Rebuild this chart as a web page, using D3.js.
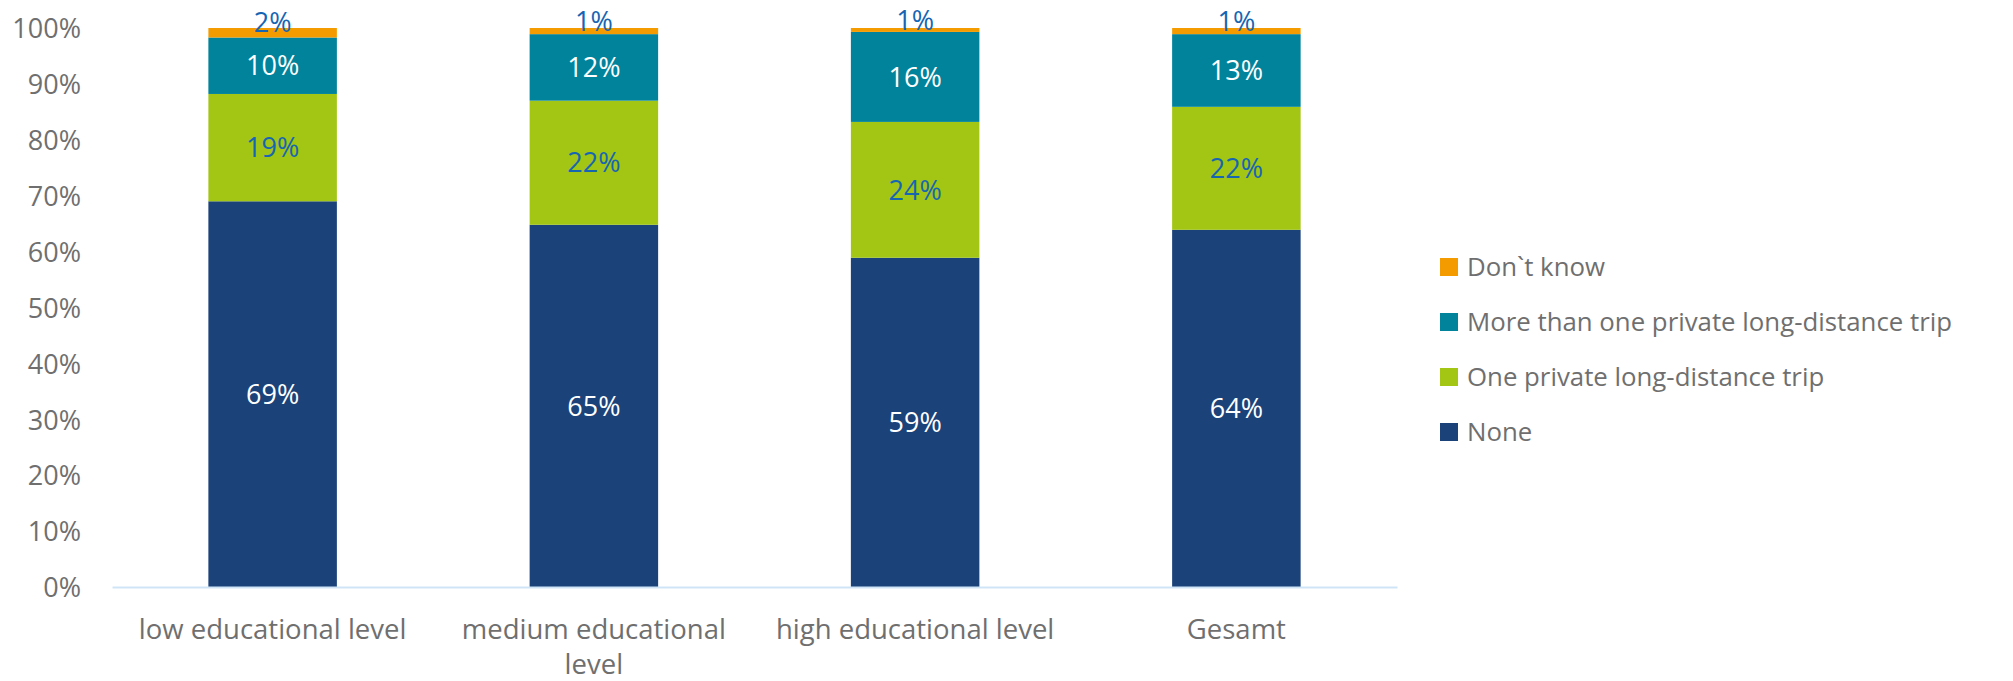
<!DOCTYPE html>
<html>
<head>
<meta charset="utf-8">
<script src="https://cdn.jsdelivr.net/npm/d3@7/dist/d3.min.js"></script>
<style>
  html, body { margin: 0; padding: 0; background: #ffffff; }
  svg { display: block; font-family: "Open Sans", sans-serif; }
</style>
</head>
<body>
<svg id="chart" width="2013" height="681"></svg>
<script>
// ---- data ----
const categories = ["low educational level", "medium educational level", "high educational level", "Gesamt"];
const seriesNames = ["None", "One private long-distance trip", "More than one private long-distance trip", "Don`t know"];
const noneValues = [69.0, 64.8, 58.9, 63.9];
const oneTripValues = [19.2, 22.2, 24.3, 22.0];
const moreTripValues = [10.1, 11.9, 16.1, 13.0];
const dontKnowValues = [1.7, 1.1, 0.7, 1.1];
const yTicks = [0, 10, 20, 30, 40, 50, 60, 70, 80, 90, 100];

// ---- styles ----
const colors = ["#1b4279", "#a3c615", "#00839b", "#f49b00"];
const labelColors = ["#ffffff", "#1665b3", "#ffffff", "#1665b3"];
const seriesValues = [noneValues, oneTripValues, moreTripValues, dontKnowValues];

const svg = d3.select("#chart");
const plot = { left: 112, right: 1397, top: 28, bottom: 587 };

const x = d3.scaleBand().domain(categories).range([plot.left, plot.right]).paddingInner(0.6).paddingOuter(0.3);
const y = d3.scaleLinear().domain([0, 100]).range([plot.bottom, plot.top]);

// stacked data
const table = categories.map((c, i) => {
  const row = { cat: c };
  seriesNames.forEach((s, j) => row[s] = seriesValues[j][i]);
  return row;
});
const stack = d3.stack().keys(seriesNames)(table);

// y axis labels
const yAxis = d3.axisLeft(y).tickValues(yTicks).tickFormat(d => d + "%").tickSize(0).tickPadding(0);
const gy = svg.append("g").attr("transform", `translate(81,0)`).call(yAxis);
gy.select(".domain").remove();
gy.selectAll("text").attr("fill", "#6f6f6f").style("font-size", "27px").style("font-family", "'Open Sans', sans-serif").attr("dy", "0.36em");

// bars
stack.forEach((layer, j) => {
  svg.append("g").selectAll("rect").data(layer).enter().append("rect")
    .attr("x", d => x(d.data.cat))
    .attr("width", x.bandwidth())
    .attr("y", d => y(d[1]))
    .attr("height", d => y(d[0]) - y(d[1]))
    .attr("fill", colors[j]);
});

// x axis line
const xAxis = d3.axisBottom(x).tickSize(0).tickFormat("");
const gx = svg.append("g").attr("transform", `translate(0,${plot.bottom})`).call(xAxis);
gx.select(".domain").attr("stroke", "#cfe5f7").attr("stroke-width", 2);

// data labels
stack.forEach((layer, j) => {
  svg.append("g").selectAll("text").data(layer).enter().append("text")
    .attr("x", d => x(d.data.cat) + x.bandwidth() / 2)
    .attr("y", d => (y(d[0]) + y(d[1])) / 2 + (j === 3 ? -10 : 0))
    .attr("dy", "0.36em")
    .attr("text-anchor", "middle")
    .attr("fill", labelColors[j])
    .style("font-size", "27px")
    .text(d => Math.round(d[1] - d[0]) + "%");
});

// category labels with wrapping
const catFont = "27.5px";
const catG = svg.append("g");
categories.forEach(c => {
  const cx = x(c) + x.bandwidth() / 2;
  const t = catG.append("text").attr("x", cx).attr("y", 629).attr("dy", "0.36em")
    .attr("text-anchor", "middle").attr("fill", "#6f6f6f").style("font-size", catFont).text(c);
  const maxW = x.step() * 0.92;
  if (t.node().getComputedTextLength() > maxW) {
    const words = c.split(" ");
    t.text(null);
    let line = [];
    let lines = [];
    const tmp = catG.append("text").style("font-size", catFont);
    words.forEach(w => {
      const test = line.concat([w]).join(" ");
      tmp.text(test);
      if (tmp.node().getComputedTextLength() > maxW && line.length) {
        lines.push(line.join(" "));
        line = [w];
      } else line.push(w);
    });
    lines.push(line.join(" "));
    tmp.remove();
    lines.forEach((l, k) => {
      t.append("tspan").attr("x", cx).attr("y", 629 + k * 35).attr("dy", "0.36em").text(l);
    });
  }
});

// legend (reverse order, top = Don`t know)
const legendOrder = seriesNames.map((s, j) => j).reverse();
const lg = svg.append("g");
legendOrder.forEach((j, k) => {
  const cy = 267 + k * 55;
  lg.append("rect").attr("x", 1440).attr("y", cy - 9).attr("width", 18).attr("height", 18).attr("fill", colors[j]);
  lg.append("text").attr("x", 1467).attr("y", cy).attr("dy", "0.36em").attr("fill", "#6f6f6f")
    .style("font-size", "25.8px").text(seriesNames[j]);
});
</script>
</body>
</html>
